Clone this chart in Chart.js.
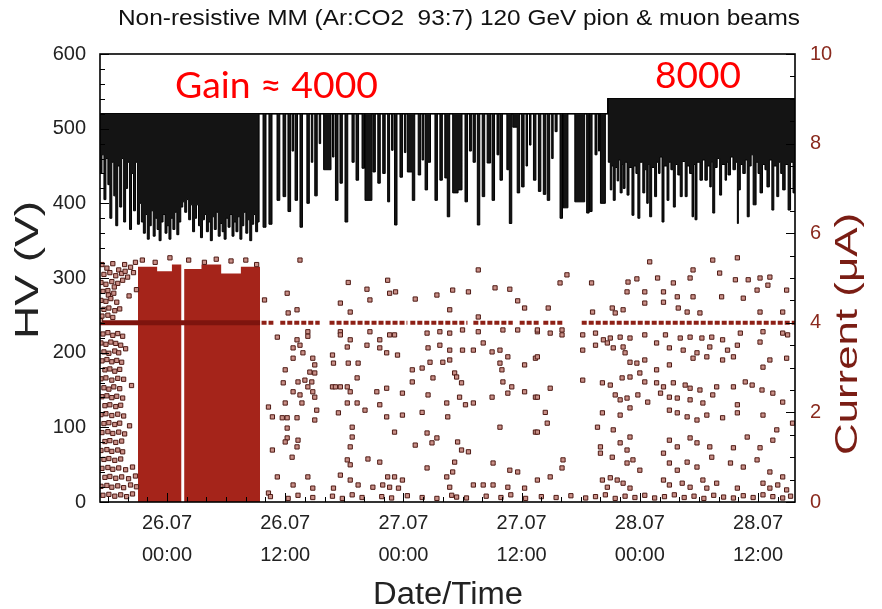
<!DOCTYPE html>
<html><head><meta charset="utf-8">
<script src="https://cdn.jsdelivr.net/npm/chart.js@4/dist/chart.umd.min.js"></script>
<style>html,body{margin:0;padding:0;background:#fff;}#wrap{width:882px;height:609px;}</style>
</head><body><div id="wrap"><canvas id="c" width="882" height="609"></canvas></div>
<script>
// ---------- texts ----------
const chartTitle = 'Non-resistive MM (Ar:CO2  93:7) 120 GeV pion & muon beams';
const xTitle = 'Date/Time';
const yLeftTitle = 'HV (V)';
const yRightTitle = 'Current (\u03BCA)';
const gainLowLabel = 'Gain \u2248 4000';
const gainHighLabel = '8000';

// ---------- axes (x in hours from 26.07 00:00) ----------
const xRange = [-6.8, 63.75];
const tickHours = [0, 12, 24, 36, 48, 60];
const tickDates = ['26.07', '26.07', '27.07', '27.07', '28.07', '28.07'];
const tickTimes = ['00:00', '12:00', '00:00', '12:00', '00:00', '12:00'];
const hvRange = [0, 600];
const curRange = [0, 10];

// ---------- HV nominal (set value) ----------
const hvNominalTimes = [-6.8, 44.75, 63.75];
const hvNominalValues = [520, 540, 540];

// ---------- HV readings: dense period (gain 4000, beginning) ----------
const hvDenseTimes = [-6.8,-6.6,-6.4,-6.2,-6.0,-5.8,-5.6,-5.4,-5.2,-5.0,-4.8,-4.6,-4.4,-4.2,-4.0,-3.8,-3.6,-3.4,-3.2,-3.0,-2.8,
 -2.6,-2.4,-2.2,-2.0,-1.8,-1.6,-1.4,-1.2,-1.0,-0.8,-0.6,-0.4,-0.2,0.0,0.2,0.4,0.6,0.8,1.0,1.2,1.4,1.6,1.8,2.0,2.2,2.4,2.6,2.8,3.0,3.2,3.4,3.6,3.8,4.0,4.2,4.4,4.6,4.8,5.0,5.2,5.4,5.6,5.8,6.0,6.2,6.4,6.6,6.8,7.0,7.2,7.4,7.6,7.8,8.0,8.2,8.4,8.6,8.8,9.0,9.2,9.35];
const hvDenseValues = [440,465,405,460,425,380,455,410,370,450,395,460,375,420,455,365,440,390,455,372,400,
 375,360,385,352,370,390,356,380,365,350,375,385,360,370,352,380,365,388,358,375,395,402,388,405,378,398,362,380,398,370,354,378,385,362,375,350,382,365,388,356,373,362,352,380,368,385,356,375,362,382,352,370,388,360,378,350,372,385,362,375,520];

// ---------- HV readings: sparse trips (gain 4000) [hour, V] ----------
const hvTripsMid = [[9.75,368],[10.05,520],[10.35,372],[10.66,520],[11.17,404],[11.45,520],[11.78,409],[12.05,520],[12.28,389],[12.55,520],
 [12.7,470],[12.85,520],[13.0,404],[13.25,520],[13.5,368],[13.75,520],[14.2,400],[14.45,520],[14.65,455],[14.8,520],[15.0,410],[15.25,520],
 [15.45,480],[15.6,520],[15.9,445],[16.65,520],[16.8,462],[16.95,520],[17.1,404],[17.36,520],
 [17.56,427],[17.8,520],[18.07,375],[18.35,520],[18.78,455],[19.0,520],[19.19,431],[19.45,520],[19.8,447],[20.05,520],[20.1,404],[20.8,520],
 [20.9,442],[21.15,520],[21.4,427],[21.65,520],[21.9,440],[22.15,520],[22.4,402],[22.6,520],[22.8,471],[22.95,520],[23.1,371],[23.35,520],
 [23.65,435],[23.9,520],[24.1,468],[24.25,520],[24.4,442],[24.9,404],[25.15,520],[25.5,438],[25.75,520],[25.9,458],[26.05,520],
 [26.2,418],[26.45,455],[26.75,520],[27.2,404],[27.45,520],
 [27.7,431],[27.95,520],[28.2,434],[28.45,382],[28.7,520],[29.0,414],[29.55,418],[29.95,520],[30.25,402],[30.5,520],[30.7,470],[30.9,520],
 [31.07,455],[31.3,520],
 [31.5,371],[31.75,520],[32.0,409],[32.25,520],[32.5,454],[32.85,520],[33.0,404],[33.25,520],[33.5,465],[33.7,520],[33.8,431],[34.05,520],
 [34.5,445],[34.75,373],[35.0,520],[35.1,502],[35.55,414],[35.8,520],[36.0,422],[36.25,520],[36.45,450],[36.6,520],[36.8,478],[36.95,520],
 [37.2,431],[37.45,520],[37.7,416],[37.95,520],
 [38.2,412],[38.45,520],[38.6,404],[38.85,520],[39.05,460],[39.2,520],[39.4,496],[39.6,520],[39.9,380],[40.15,520],[40.2,394],[40.7,520],
 [41.4,402],[42.4,520],
 [42.6,387],[42.85,520],[42.9,389],[43.15,520],[43.45,465],[43.65,520],[43.8,470],[43.9,520],[44.0,400],[44.5,520],[44.75,540]];

// ---------- HV readings: gain 8000 period [hour, V] ----------
const hvTripsHigh = [[44.8,455],[45.0,418],[45.15,450],[45.3,404],[45.5,448],[45.7,430],[45.85,458],[46.0,414],[46.2,452],[46.3,420],
 [46.5,455],[46.7,411],[46.9,448],[47.2,384],[47.4,450],[47.6,440],[47.8,380],[48.0,455],[48.3,414],[48.5,445],[48.7,400],[48.85,452],
 [49.0,382],[49.2,448],[49.5,409],[49.7,455],[49.9,440],[50.05,462],[50.25,375],[50.45,450],[50.76,404],[50.95,455],[51.15,445],[51.4,395],
 [51.6,452],[51.85,438],[52.1,409],[52.3,456],[52.6,409],[52.8,450],[53.05,440],[53.3,382],[53.45,452],[53.6,378],[53.8,455],[54.1,431],
 [54.35,458],[54.6,431],[54.85,450],[55.1,422],[55.25,455],[55.4,387],[55.6,448],[55.85,460],[56.1,411],[56.3,452],[56.65,431],[56.8,455],
 [56.95,438],[57.2,462],[57.45,445],[57.7,455],[57.9,373],[58.0,418],[58.2,452],[58.45,440],[58.7,458],[58.9,382],[59.1,450],[59.3,465],
 [59.5,398],[59.8,455],[60.0,440],[60.2,414],[60.45,452],[60.7,445],[60.9,422],[61.15,458],[61.4,391],[61.6,450],[61.9,409],[62.1,455],
 [62.3,440],[62.5,418],[62.75,452],[63.05,391],[63.3,455],[63.55,414],[63.75,450]];

// ---------- Current: saturated period (blocks of dense readings) ----------
const curBlockTimes = [-2.95, -1.0, 0.5, 1.45, 1.75, 3.5, 5.5, 7.5, 9.45];
const curBlockValues = [5.25, 5.15, 5.3, 0, 5.2, 5.3, 5.1, 5.25, 0];

// ---------- Current: 4 uA plateau traces ----------
const curPlateauSolidTimes = [-6.8, 9.45];
const curPlateauSolidValues = [4.0, 4.0];
const curPlateauTimes = [9.6, 10.8, 10.9, 11.5, 15.5, 16.0, 16.5, 24.4, 24.55, 24.7, 30.5, 30.8, 31.1, 35.1, 35.5, 35.8, 37.9, 38.0, 38.2, 40.2, 41.1, 42.1, 63.75];
const curPlateauValues = [4.0, 4.0, null, 4.0, 4.0, null, 4.0, 4.0, null, 4.0, 4.0, null, 4.0, 4.0, null, 4.0, 4.0, null, 4.0, 4.0, null, 4.0, 4.0];

// ---------- Current: individual readings [hour, uA] ----------
const curEarly = [[-6.6,5.3],[-6.1,5.22],[-5.5,5.32],[-4.9,5.18],[-4.3,5.3],[-3.7,5.24],[-3.2,5.35],
 [-6.4,5.08],[-5.8,5.12],[-5.2,5.05],[-4.6,5.1],[-4.0,5.02],[-3.4,5.12],[-4.25,5.15],
 [-6.7,4.9],[-6.2,4.86],[-5.6,4.92],[-5.0,4.88],[-4.5,4.95],[-5.35,4.8],
 [-6.5,4.7],[-6.0,4.72],[-5.4,4.66],[-3.1,4.74],[-5.95,4.62],[-3.85,4.6],
 [-6.7,4.5],[-6.2,4.48],[-5.7,4.54],[-5.1,4.46],
 [-6.4,4.3],[-5.9,4.33],[-5.3,4.27],[-4.8,4.31],
 [-6.6,4.15],[-6.0,4.17],[-5.5,4.12],[-6.75,4.05],
 [-6.5,3.75],[-6.0,3.78],[-5.5,3.72],[-5.0,3.76],[-4.5,3.7],
 [-6.7,3.55],[-6.2,3.52],[-5.7,3.57],[-5.2,3.54],[-4.7,3.5],
 [-6.4,3.35],[-5.9,3.32],[-5.3,3.37],[-4.9,3.33],[-4.2,3.42],
 [-6.6,3.15],[-6.1,3.18],[-5.6,3.13],[-5.1,3.16],[-4.6,3.12],
 [-6.3,2.95],[-5.8,2.97],[-5.3,2.92],[-4.8,2.96],
 [-6.7,2.75],[-6.2,2.77],[-5.6,2.72],[-5.0,2.76],[-4.4,2.74],
 [-6.4,2.55],[-5.9,2.52],[-5.4,2.57],[-4.8,2.53],[-3.6,2.6],
 [-6.6,2.35],[-6.1,2.37],[-5.6,2.33],[-5.1,2.36],[-4.5,2.32],
 [-6.3,2.15],[-5.8,2.17],[-5.2,2.13],[-4.7,2.16],
 [-6.7,1.95],[-6.2,1.97],[-5.6,1.93],[-5.0,1.96],[-4.4,1.92],
 [-6.4,1.75],[-5.9,1.77],[-5.3,1.73],[-4.8,1.76],[-3.8,1.7],
 [-6.6,1.55],[-6.0,1.57],[-5.5,1.53],[-4.9,1.56],[-4.3,1.52],
 [-6.3,1.35],[-5.8,1.37],[-5.2,1.33],[-4.6,1.36],
 [-6.7,1.15],[-6.1,1.17],[-5.6,1.13],[-5.0,1.16],[-4.5,1.12],
 [-6.4,0.95],[-5.9,0.97],[-5.3,0.93],[-4.7,0.96],
 [-6.6,0.75],[-6.0,0.77],[-5.5,0.73],[-4.9,0.76],[-4.2,0.72],[-3.5,0.78],
 [-6.3,0.55],[-5.8,0.57],[-5.2,0.53],[-4.6,0.56],[-3.9,0.52],[-3.2,0.58],
 [-6.7,0.35],[-6.1,0.37],[-5.6,0.33],[-5.0,0.36],[-4.4,0.32],[-3.7,0.38],[-3.1,0.34],
 [-6.5,0.15],[-5.9,0.17],[-5.3,0.13],[-4.7,0.16],[-4.1,0.12],[-3.5,0.18],
 [-2.5,5.4],[-1.2,5.35],[0.3,5.45],[2.2,5.4],[3.8,5.35],[5.0,5.42],[6.5,5.38],[8.0,5.4],[9.1,5.3]];

const curMid = [[9.9,4.51],[11.2,3.68],[11.8,2.66],[10.3,2.12],[10.7,1.9],[11.7,1.88],[12.2,1.43],[10.7,1.16],[12.7,1.0],[11.2,0.56],[10.3,0.2],
 [13.5,5.4],[31.6,5.18],[18.4,4.9],[22.4,4.95],[12.2,4.66],[20.3,4.75],[22.6,4.66],[23.2,4.69],[25.2,4.53],[27.4,4.62],[29.0,4.73],[30.6,4.69],
 [33.3,4.78],[34.8,4.75],[35.6,4.49],[36.3,4.33],[20.6,4.51],[17.6,4.44],[13.2,4.29],[12.3,4.22],[18.6,4.24],[28.7,4.29],[31.6,4.13],
 [14.3,3.8],[14.3,3.7],[17.6,3.8],[17.6,3.73],[20.6,3.8],[22.6,3.73],[23.1,3.73],[26.4,3.77],[27.7,3.8],[28.7,3.77],[30.0,3.84],[31.6,3.8],
 [34.1,3.84],[35.6,3.84],[37.6,3.8],[13.2,3.62],[13.5,3.5],[18.6,3.62],[21.6,3.62],[12.8,3.44],[13.8,3.33],[12.8,3.21],[14.8,3.21],[15.0,3.06],
 [16.8,3.28],[16.9,3.1],[18.4,3.1],[19.4,3.1],[18.3,3.46],[20.3,3.5],[21.6,3.44],[22.3,3.33],[23.4,3.28],[26.5,3.44],[27.7,3.5],[28.7,3.39],
 [30.0,3.39],[31.1,3.39],[32.1,3.55],[33.0,3.35],[33.8,3.39],[26.7,3.12],[28.0,3.12],[28.7,3.17],[33.8,3.1],[34.0,2.95],[34.6,3.24],[37.4,3.21],
 [36.3,3.06],[12.0,2.95],[14.5,2.9],[15.0,2.88],[24.9,2.95],[25.9,2.99],[29.2,2.88],[13.3,2.68],[14.0,2.72],[14.7,2.68],[14.3,2.57],[19.3,2.77],
 [24.9,2.68],[27.0,2.77],[29.4,2.79],[29.9,2.66],[34.1,2.68],[35.0,2.57],[12.8,2.46],[13.5,2.39],[14.8,2.46],[15.0,2.34],[16.8,2.57],[17.1,2.57],
 [17.6,2.57],[18.3,2.57],[18.6,2.46],[21.3,2.46],[22.3,2.54],[23.9,2.43],[26.5,2.39],[29.7,2.34],[33.0,2.34],[34.6,2.43],[36.3,2.46],[37.4,2.34],
 [12.0,2.21],[13.7,2.21],[15.2,2.05],[17.4,1.99],[18.3,2.21],[19.3,2.21],[21.6,2.17],[28.4,2.21],[30.3,2.17],[31.1,2.21],[12.2,1.88],[13.2,1.88],
 [15.0,1.83],[18.8,1.67],[20.1,2.05],[22.3,1.9],[23.9,1.94],[25.9,2.0],[28.5,1.9],[33.8,1.67],[37.4,1.56],[12.2,1.65],[23.1,1.56],
 [26.4,1.54],[27.4,1.43],[26.9,1.32],[18.8,1.45],[18.6,1.23],[12.0,1.34],[13.3,1.38],[13.2,1.23],[25.2,1.27],[29.5,1.34],[29.9,1.16],[30.6,1.12],
 [18.3,0.94],[18.6,0.83],[20.4,0.96],[21.6,0.89],[26.4,0.76],[29.2,0.89],[29.0,0.67],[28.4,0.56],[33.1,0.87],[34.8,0.71],[35.6,0.67],
 [14.3,0.56],[17.6,0.6],[18.6,0.49],[22.4,0.56],[23.1,0.56],[23.9,0.49],[12.8,0.38],[14.8,0.31],[16.9,0.31],[19.4,0.38],[20.9,0.33],[21.9,0.38],
 [22.6,0.33],[23.5,0.31],[28.7,0.33],[31.1,0.38],[32.1,0.38],[33.1,0.38],[34.6,0.33],[36.3,0.31]];

const curLate = [[49.0,5.36],[55.4,5.4],[57.9,5.45],[40.6,5.07],[39.9,4.89],[43.1,4.89],[46.8,4.91],[47.7,4.98],[49.8,5.0],[51.4,4.89],[53.4,5.18],
 [53.1,5.0],[56.1,5.11],[57.7,4.96],[59.0,4.96],[60.2,5.0],[61.2,5.02],[61.0,4.84],[62.9,4.73],[46.7,4.69],[48.5,4.69],[50.4,4.69],[51.8,4.58],
 [53.4,4.58],[56.3,4.58],[58.5,4.55],[59.9,4.73],[38.7,4.33],[43.2,4.24],[48.5,4.44],[50.4,4.46],[51.9,4.33],[52.8,4.24],[54.1,4.22],[60.2,4.24],
 [62.5,4.24],[45.2,4.33],[45.5,4.22],[46.3,4.29],
 [37.6,3.84],[38.9,3.77],[40.1,3.84],[40.1,3.73],[42.2,3.73],[43.5,3.77],[44.3,3.62],[45.0,3.66],[46.0,3.68],[47.0,3.66],[48.5,3.73],[50.6,3.73],
 [52.1,3.66],[53.1,3.68],[54.3,3.66],[55.3,3.68],[56.4,3.62],[58.2,3.77],[60.5,3.8],[62.5,3.77],[63.0,3.73],
 [37.6,3.24],[42.2,3.39],[43.5,3.5],[44.7,3.55],[45.3,3.44],[46.3,3.46],[49.7,3.55],[51.0,3.44],[52.4,3.39],[53.8,3.33],[55.1,3.46],[56.9,3.39],
 [57.5,3.24],[57.9,3.5],[60.2,3.57],[60.5,3.01],[61.2,3.17],[62.9,3.21],[46.5,3.33],[47.0,3.12],[47.7,3.1],[48.5,3.17],[49.7,2.95],[51.0,3.06],
 [53.4,3.21],[54.8,3.24],[56.4,3.17],
 [42.2,2.72],[44.2,2.66],[45.0,2.61],[46.2,2.77],[47.0,2.79],[48.0,2.88],[48.5,2.68],[49.7,2.66],[50.4,2.57],[51.4,2.66],[52.6,2.61],[53.1,2.54],
 [54.1,2.5],[55.8,2.57],[57.5,2.57],[58.7,2.68],[59.4,2.61],
 [37.6,2.34],[38.4,2.0],[38.9,2.54],[45.5,2.39],[46.0,2.28],[46.7,2.32],[47.8,2.39],[48.8,2.23],[50.1,2.43],[51.0,2.34],[51.8,2.32],[53.1,2.28],
 [54.4,2.21],[55.4,2.39],[57.9,2.17],[60.4,2.5],[61.5,2.43],[62.5,2.23],
 [37.6,1.56],[38.6,1.76],[44.2,1.99],[46.0,1.94],[47.0,2.1],[51.0,2.05],[51.8,1.99],[52.8,1.9],[53.8,1.83],[54.8,1.94],[56.4,1.88],[57.9,1.99],
 [60.5,1.94],[61.9,1.61],[63.5,1.76],
 [43.7,1.67],[45.3,1.61],[47.0,1.45],[46.0,1.32],[44.0,1.23],[46.7,1.16],[51.0,1.38],[51.8,1.23],[53.1,1.43],[53.8,1.32],[55.1,1.23],[57.5,1.21],
 [58.9,1.45],[60.2,1.21],[61.5,1.38],
 [37.6,0.49],[38.9,0.56],[40.2,0.94],[40.1,0.76],[44.0,1.09],[45.2,1.0],[46.7,0.87],[47.3,0.94],[48.0,0.71],[50.4,1.09],[51.0,0.87],[51.8,0.71],
 [52.8,0.89],[53.8,0.78],[55.3,1.0],[57.2,0.87],[58.5,0.78],[59.9,0.94],[61.2,0.67],[62.5,0.56],
 [44.2,0.49],[45.0,0.54],[45.7,0.49],[44.7,0.33],[46.3,0.42],[47.0,0.31],[50.4,0.49],[51.0,0.38],[52.3,0.42],[53.1,0.33],[54.4,0.49],[54.8,0.31],
 [55.8,0.42],[57.9,0.31],[60.5,0.42],[61.2,0.31],[62.0,0.38],[62.9,0.27]];

const curFloorTimes = [10.5,12.3,13.3,14.8,16.8,17.8,18.8,19.8,21.8,22.8,24.4,25.9,27.4,28.9,29.4,30.4,32.4,33.9,34.9,36.4,38.0,39.5,41.0,42.5,
 43.5,44.5,45.5,46.5,47.5,48.5,49.5,50.5,51.5,52.5,53.5,54.5,55.5,56.5,57.5,58.5,59.5,60.5,61.5,62.5,63.3];
const curFloorValues = [0.12,0.08,0.15,0.1,0.13,0.08,0.16,0.1,0.12,0.09,0.14,0.1,0.08,0.15,0.11,0.09,0.13,0.1,0.16,0.08,0.12,0.1,0.14,0.09,
 0.12,0.16,0.08,0.13,0.1,0.15,0.09,0.12,0.16,0.1,0.13,0.08,0.15,0.11,0.09,0.14,0.1,0.16,0.12,0.09,0.13];

// ---------- build datasets ----------
const xy = (ts, vs) => ts.map((t, i) => ({x: t, y: vs[i]}));
const pairs = arr => arr.map(p => ({x: p[0], y: p[1]}));

const hvData = xy(hvDenseTimes, hvDenseValues).concat(pairs(hvTripsMid), pairs(hvTripsHigh));
const curPoints = pairs(curEarly).concat(pairs(curMid), pairs(curLate), xy(curFloorTimes, curFloorValues));

const FONT = '"Liberation Sans", Arial, Helvetica, sans-serif';
const CUR_COLOR = '#8a2a1e';

const decorations = {
  id: 'decorations',
  afterDatasetsDraw(chart) {
    const {ctx, chartArea: a, scales} = chart;
    ctx.save();
    ctx.strokeStyle = '#000';
    ctx.lineWidth = 1;
    ctx.beginPath();
    for (let v = hvRange[0]; v <= hvRange[1]; v += 20) {
      const y = Math.round(scales.yHV.getPixelForValue(v)) + 0.5;
      const len = v % 100 === 0 ? 9 : 5;
      ctx.moveTo(a.left, y); ctx.lineTo(a.left + len, y);
    }
    for (let v = curRange[0]; v <= curRange[1] + 1e-9; v += 0.5) {
      const y = Math.round(scales.yCur.getPixelForValue(v)) + 0.5;
      const len = Math.abs(v % 2) < 1e-9 ? 9 : 5;
      ctx.moveTo(a.right, y); ctx.lineTo(a.right - len, y);
    }
    for (let h = -6; h <= 62; h += 2) {
      const x = Math.round(scales.x.getPixelForValue(h)) + 0.5;
      const len = h % 12 === 0 ? 9 : 5;
      ctx.moveTo(x, a.bottom); ctx.lineTo(x, a.bottom - len);
    }
    ctx.stroke();
    ctx.lineWidth = 1.6;
    ctx.strokeRect(a.left, a.top, a.right - a.left, a.bottom - a.top);
    ctx.restore();
  },
  afterDraw(chart) {
    const ctx = chart.ctx;
    const fit = (text, x, y, font, w, color, rot, align) => {
      ctx.save();
      ctx.font = font;
      ctx.fillStyle = color;
      const mw = ctx.measureText(text).width;
      ctx.translate(x, y);
      if (rot) ctx.rotate(rot);
      ctx.scale(w / mw, 1);
      ctx.textAlign = align || 'center';
      ctx.textBaseline = rot ? 'middle' : 'alphabetic';
      ctx.fillText(text, 0, 0);
      ctx.restore();
    };
    fit(chartTitle, 459, 25, '22px ' + FONT, 682, '#111');
    fit(xTitle, 448, 604, '31px ' + FONT, 150, '#222');
    fit(yLeftTitle, 29, 270, '33px ' + FONT, 138, '#222', -Math.PI / 2);
    fit(yRightTitle, 848, 334, '32px ' + FONT, 242, '#7a1d14', -Math.PI / 2);
    fit(gainLowLabel, 175, 98, '37px Lato, "Open Sans", sans-serif', 203, '#ff0000', 0, 'left');
    fit(gainHighLabel, 655, 88, '37px Lato, "Open Sans", sans-serif', 86, '#ff0000', 0, 'left');
  }
};

new Chart(document.getElementById('c'), {
  type: 'line',
  data: {
    datasets: [
      {label: 'HV', data: hvData, yAxisID: 'yHV', stepped: 'before', borderColor: '#000', borderWidth: 1,
       pointRadius: 0, fill: '+1', backgroundColor: '#141414', order: 1},
      {label: 'HV set', data: xy(hvNominalTimes, hvNominalValues), yAxisID: 'yHV', stepped: 'before', borderColor: '#000',
       borderWidth: 1.5, pointRadius: 0, fill: false, order: 2},
      {label: 'Current', type: 'scatter', data: curPoints, yAxisID: 'yCur', pointStyle: 'rect', pointRadius: 3.0,
       borderWidth: 1, borderColor: '#4e1a14', backgroundColor: '#c99088', showLine: false, order: 3},
      {label: 'Current plateau', data: xy(curPlateauSolidTimes, curPlateauSolidValues), yAxisID: 'yCur', borderColor: '#7e140e',
       borderWidth: 5, pointRadius: 0, fill: false, order: 4},
      {label: 'Current plateau 2', data: xy(curPlateauTimes, curPlateauValues), yAxisID: 'yCur', borderColor: '#8e2016',
       borderWidth: 4, borderDash: [5, 2], pointRadius: 0, fill: false, spanGaps: false, order: 5},
      {label: 'Current dense', data: xy(curBlockTimes, curBlockValues), yAxisID: 'yCur', stepped: 'before', borderWidth: 0,
       borderColor: 'rgba(0,0,0,0)', pointRadius: 0, fill: 'origin', backgroundColor: '#a5241a', order: 6}
    ]
  },
  options: {
    responsive: false, animation: false, devicePixelRatio: 1,
    layout: {padding: {top: 54, left: 0, right: 0, bottom: 0}},
    plugins: {legend: {display: false}, title: {display: false}, tooltip: {enabled: false}},
    scales: {
      x: {type: 'linear', min: xRange[0], max: xRange[1],
          afterBuildTicks: ax => { ax.ticks = tickHours.map(v => ({value: v})); },
          afterFit: ax => { ax.height = 107; },
          grid: {display: false, drawTicks: false}, border: {display: false},
          ticks: {padding: 5, color: '#222', font: {family: FONT, size: 20, lineHeight: 1.6}, maxRotation: 0, autoSkip: false,
                  callback: v => { const i = tickHours.indexOf(v); return i < 0 ? '' : [tickDates[i], tickTimes[i]]; }}},
      yHV: {type: 'linear', position: 'left', min: hvRange[0], max: hvRange[1],
            afterFit: ax => { ax.width = 100; },
            grid: {display: false, drawTicks: false}, border: {display: false},
            ticks: {stepSize: 100, padding: 14, color: '#222', font: {family: FONT, size: 20}}},
      yCur: {type: 'linear', position: 'right', min: curRange[0], max: curRange[1],
             afterFit: ax => { ax.width = 87; },
             grid: {display: false, drawTicks: false}, border: {display: false},
             ticks: {stepSize: 2, padding: 15, color: CUR_COLOR, font: {family: FONT, size: 20}}}
    }
  },
  plugins: [decorations]
});
</script></body></html>
